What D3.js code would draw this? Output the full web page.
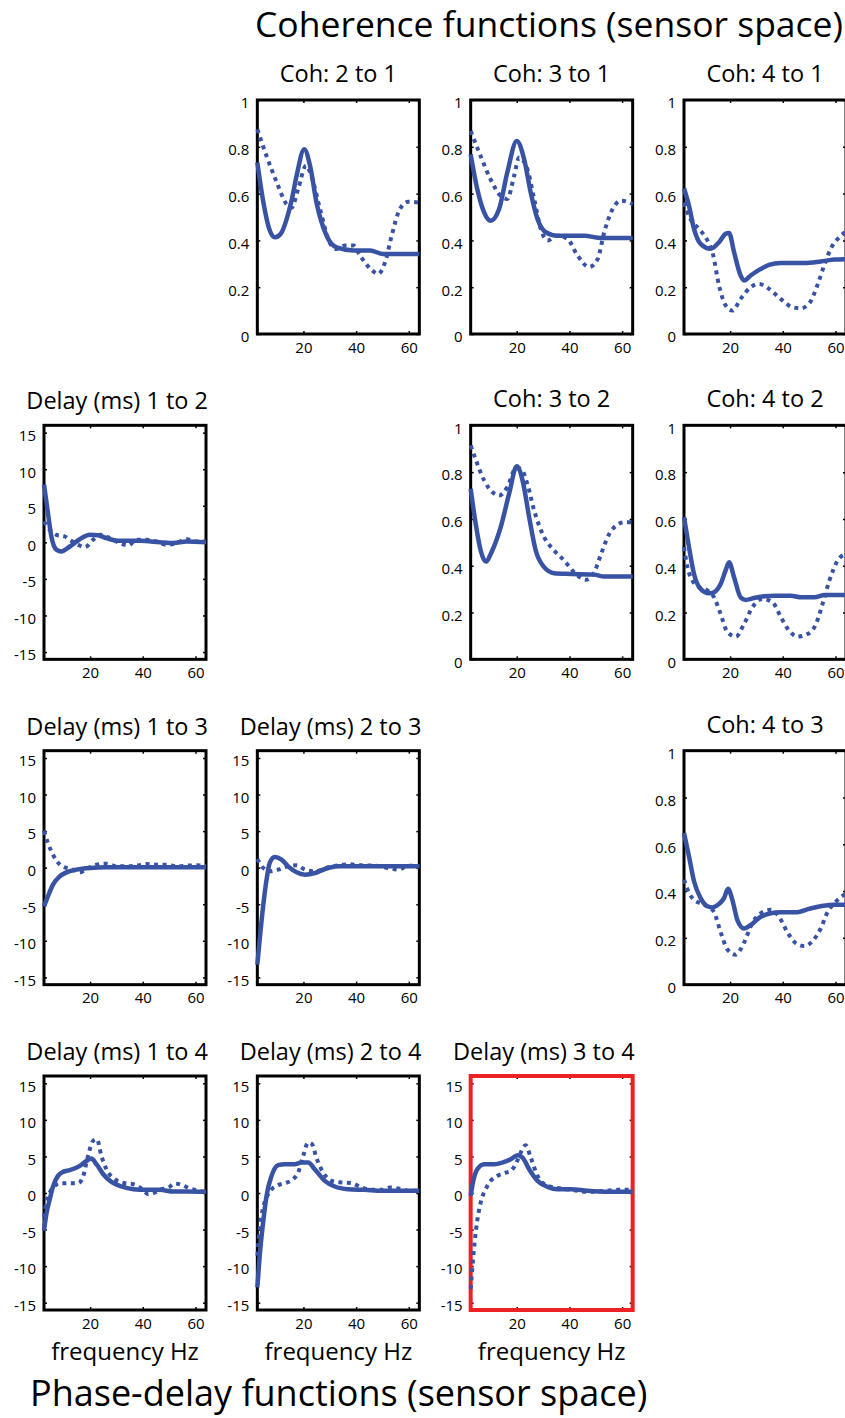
<!DOCTYPE html>
<html>
<head>
<meta charset="utf-8">
<script src="https://cdn.jsdelivr.net/npm/d3@7"></script>
<style>
  body { margin: 0; background: #fff; }
  svg { display: block; font-family: "Open Sans", sans-serif; }
</style>
</head>
<body>
<div id="chart"></div>
<script>
// curves: [frequency Hz, value]
const coh21Solid = [[2.5,0.733],[5,0.55],[7,0.45],[9.2,0.413],[11.5,0.43],[13.6,0.49],[15.5,0.57],[17.4,0.676],[20.3,0.79],[22.5,0.72],[25,0.56],[28.8,0.42],[32.6,0.37],[39,0.357],[45.3,0.357],[50.3,0.342],[64,0.342]];
const coh21Dotted = [[2.5,0.875],[6,0.76],[9.8,0.65],[13.6,0.555],[15.5,0.54],[18,0.62],[21,0.72],[23,0.676],[26.3,0.534],[30,0.39],[32.6,0.363],[35.8,0.378],[39,0.378],[41.5,0.335],[45.3,0.28],[48.4,0.257],[51,0.307],[53.5,0.42],[56.6,0.534],[59.8,0.565],[64,0.562]];

const coh31Solid = [[2.5,0.768],[5,0.62],[7.6,0.52],[10.1,0.484],[13.3,0.534],[16.4,0.69],[20,0.825],[22.8,0.747],[25.3,0.605],[27.9,0.49],[31,0.435],[35.5,0.42],[45.6,0.42],[52,0.41],[64,0.41]];
const coh31Dotted = [[2.5,0.868],[6.3,0.76],[10.1,0.66],[13.9,0.59],[16.4,0.577],[19,0.676],[20.9,0.754],[24,0.705],[26.6,0.577],[29.1,0.449],[31.7,0.4],[35.5,0.42],[39.3,0.406],[43.1,0.335],[47.5,0.286],[50.7,0.32],[53.2,0.435],[56.4,0.534],[59.6,0.57],[64,0.555]];

const coh41Solid = [[2.5,0.622],[4.4,0.548],[6.3,0.449],[8.8,0.385],[12.6,0.364],[15.8,0.392],[18.3,0.428],[19.6,0.432],[21.5,0.35],[24,0.25],[25.3,0.229],[27.8,0.25],[31,0.274],[34.8,0.295],[39.2,0.303],[48.1,0.303],[54.4,0.31],[59.5,0.318],[64,0.32]];
const coh41Dotted = [[2.5,0.562],[5,0.49],[8.2,0.449],[11.4,0.4],[13.3,0.35],[15.8,0.207],[18.3,0.122],[20.9,0.1],[24,0.15],[27.8,0.2],[31,0.214],[34.8,0.193],[39.2,0.15],[43.6,0.115],[46.8,0.11],[50,0.13],[53.1,0.207],[55.7,0.293],[58.2,0.364],[61.4,0.413],[64,0.437]];

const coh32Solid = [[2.5,0.729],[4.4,0.58],[6.3,0.465],[8.2,0.418],[10.7,0.465],[13.9,0.565],[17.1,0.708],[20,0.825],[22.2,0.765],[24.7,0.608],[27.2,0.465],[30.4,0.394],[34.2,0.368],[40.5,0.365],[49.4,0.362],[53.2,0.354],[64,0.354]];
const coh32Dotted = [[2.5,0.914],[5,0.836],[7.6,0.765],[10.7,0.715],[13.3,0.7],[16.4,0.736],[19.6,0.815],[21.5,0.815],[24,0.75],[26.6,0.636],[30.4,0.522],[34.2,0.465],[38,0.422],[41.8,0.372],[46.2,0.34],[49.4,0.372],[52,0.45],[55.1,0.536],[58.3,0.576],[60.8,0.586],[64,0.586]];

const coh42Solid = [[2.5,0.608],[4.4,0.479],[6.3,0.365],[8.8,0.301],[12,0.282],[13.9,0.287],[16.4,0.322],[18.3,0.38],[19.6,0.415],[21.5,0.351],[24,0.265],[25.9,0.254],[29.1,0.262],[33,0.27],[37,0.272],[43,0.272],[47,0.265],[52,0.265],[56,0.275],[64,0.275]];
const coh42Dotted = [[2.5,0.479],[3.8,0.394],[5.7,0.337],[8.2,0.308],[11.4,0.294],[13.9,0.265],[16.4,0.194],[19,0.116],[22.2,0.097],[25.3,0.151],[28.5,0.223],[32.3,0.258],[36.1,0.244],[39.3,0.18],[42.4,0.123],[45.6,0.097],[49.4,0.108],[52.6,0.151],[55.1,0.237],[57.7,0.337],[60.8,0.422],[64,0.451]];

const coh43Solid = [[2.5,0.648],[4.4,0.548],[6.3,0.442],[8.8,0.37],[11.4,0.335],[13.3,0.33],[15.8,0.345],[17.7,0.37],[19.2,0.41],[20.9,0.36],[22.8,0.275],[25.3,0.24],[27.8,0.255],[31.6,0.29],[35.4,0.305],[39.2,0.31],[45.5,0.31],[49.3,0.322],[54.4,0.335],[59.5,0.342],[64,0.342]];
const coh43Dotted = [[2.5,0.449],[4.4,0.392],[6.3,0.363],[9.5,0.345],[12,0.33],[13.9,0.31],[16.4,0.225],[19,0.15],[22.1,0.128],[25.3,0.18],[28.5,0.265],[31.6,0.305],[35.4,0.32],[38.6,0.29],[41.7,0.225],[44.9,0.178],[48.1,0.165],[51.2,0.185],[54.4,0.24],[57,0.31],[60.2,0.355],[64,0.39]];

const del12Solid = [[2.5,7.9],[4,4.0],[5.3,0.8],[7.2,-1.0],[9.1,-1.25],[12.3,-0.57],[16.1,0.43],[19.9,1.03],[23,0.98],[26.2,0.57],[31.3,0.2],[38.9,0.2],[46.5,0.02],[51.6,-0.1],[56.6,0.11],[64,0.02]];
const del12Dotted = [[2.5,2.85],[4.7,1.7],[7.2,1.03],[10.4,0.8],[12.3,0.34],[15.5,-0.34],[18,-0.66],[21.1,0.34],[23.7,1.03],[27.5,0.57],[31.3,-0.1],[34.5,-0.4],[37.6,0.34],[41.4,0.34],[45.2,0.11],[49,-0.34],[52.8,-0.1],[56.6,0.43],[60.5,0.11],[64,0.11]];

const del13Solid = [[2.5,-5.29],[4,-3.92],[5.9,-2.32],[8.5,-1.18],[11,-0.64],[14.8,-0.27],[19.9,-0.04],[26.2,0.05],[64,0.05]];
const del13Dotted = [[2.5,5.06],[4,3.37],[5.9,1.78],[8.5,0.41],[11,-0.04],[13.5,-0.27],[16.1,-0.64],[18.6,-0.18],[22.4,0.41],[26.2,0.55],[30,0.18],[33.8,0.18],[37.6,0.27],[41.4,0.5],[45.2,0.41],[49,0.41],[52.8,0.18],[56.6,0.27],[60.5,0.32],[64,0.18]];

const del23Solid = [[2.5,-13.26],[3.4,-9.84],[4.7,-5.29],[6,-1.64],[7.2,0.64],[9.1,1.46],[11.7,1.1],[14.2,0.18],[17.4,-0.64],[20.6,-0.96],[24.4,-0.73],[28.2,-0.18],[33.2,0.18],[39.6,0.18],[49.7,0.18],[64,0.18]];
const del23Dotted = [[2.5,1.19],[4.7,-0.04],[7.2,-0.5],[10.4,-0.27],[14.2,0.18],[17.4,0.32],[20.6,-0.27],[24.4,-0.5],[29.4,0.05],[33.2,0.32],[37,0.46],[42.1,0.32],[47.1,0.27],[52.2,-0.04],[56,-0.27],[59.8,0.27],[64,0.18]];

const del14Solid = [[2.5,-5.17],[3.4,-2.89],[4.7,-0.84],[6,0.98],[7.8,2.34],[9.7,2.89],[12.3,3.12],[16.1,3.71],[18.6,4.39],[20.5,4.71],[22.4,3.94],[25,2.57],[28.1,1.52],[31.9,0.89],[36.4,0.52],[41.4,0.43],[46.5,0.43],[51.6,0.2],[56.6,0.2],[64,0.16]];
const del14Dotted = [[2.5,-3.35],[3.4,-1.3],[4.7,0.07],[6.6,0.98],[8.5,1.34],[12.3,1.34],[15.5,1.34],[17.4,2.34],[19.2,5.07],[21.1,7.12],[22.6,7.35],[24.3,5.07],[26.2,3.25],[29.4,1.89],[33.2,1.34],[36.4,1.2],[39.5,0.61],[42.1,-0.16],[44.6,0.07],[47.1,0.52],[49.7,0.75],[52.2,1.29],[54.7,1.11],[57.9,0.61],[61.1,0.3],[64,0.16]];

const del24Solid = [[2.5,-12.9],[3.4,-8.58],[4.7,-4.03],[6,-0.38],[7.9,2.34],[10.4,3.8],[12.9,3.94],[16.7,3.94],[19.2,4.16],[21.8,4.16],[24.3,3.25],[28.1,1.66],[31.9,0.89],[37,0.52],[43.3,0.43],[49.7,0.3],[57.3,0.3],[64,0.3]];
const del24Dotted = [[2.5,-8.58],[3.4,-4.94],[4.7,-1.98],[6,-0.61],[7.9,0.52],[10.4,1.07],[12.9,1.34],[16.1,1.89],[18,2.8],[19.9,5.07],[21.8,6.9],[23.3,6.67],[24.9,4.85],[27.5,2.8],[30.7,1.66],[34.5,1.43],[38.3,1.34],[42.1,0.75],[45.9,0.43],[49.7,0.43],[52.8,0.75],[56,0.61],[59.8,0.3],[64,0.3]];

const del34Solid = [[2.5,-0.39],[3.5,1.66],[5,3.25],[7.6,3.94],[11.4,3.94],[14.5,4.16],[17.7,4.62],[20.3,5.17],[22.2,4.85],[24.7,3.25],[27.9,1.66],[31.7,0.84],[35.5,0.52],[40.5,0.52],[46.8,0.3],[54.4,0.16],[64,0.16]];
const del34Dotted = [[2.5,-13.13],[3.1,-10.4],[4,-6.76],[5,-3.8],[6.3,-1.3],[8.2,0.52],[10.1,1.66],[12.6,2.34],[15.2,2.71],[17.7,3.03],[19.6,3.94],[21.5,5.53],[23.4,6.53],[25.3,4.85],[27.9,2.34],[31.7,0.98],[36.7,0.61],[41.8,0.39],[46.8,0.16],[53.2,0.3],[58.3,0.43],[64,0.43]];

// axes ticks
const freqTicks = [20, 40, 60];
const cohTicks = [0, 0.2, 0.4, 0.6, 0.8, 1];
const cohTickLabels = ["0", "0.2", "0.4", "0.6", "0.8", "1"];
const delayTicks = [-15, -10, -5, 0, 5, 10, 15];
const delayTickLabels = ["-15", "-10", "-5", "0", "5", "10", "15"];

const panels = [
  { row: 0, col: 1, kind: "coh", title: "Coh: 2 to 1", solid: coh21Solid, dotted: coh21Dotted },
  { row: 0, col: 2, kind: "coh", title: "Coh: 3 to 1", solid: coh31Solid, dotted: coh31Dotted },
  { row: 0, col: 3, kind: "coh", title: "Coh: 4 to 1", solid: coh41Solid, dotted: coh41Dotted },
  { row: 1, col: 0, kind: "delay", title: "Delay (ms) 1 to 2", solid: del12Solid, dotted: del12Dotted },
  { row: 1, col: 2, kind: "coh", title: "Coh: 3 to 2", solid: coh32Solid, dotted: coh32Dotted },
  { row: 1, col: 3, kind: "coh", title: "Coh: 4 to 2", solid: coh42Solid, dotted: coh42Dotted },
  { row: 2, col: 0, kind: "delay", title: "Delay (ms) 1 to 3", solid: del13Solid, dotted: del13Dotted },
  { row: 2, col: 1, kind: "delay", title: "Delay (ms) 2 to 3", solid: del23Solid, dotted: del23Dotted },
  { row: 2, col: 3, kind: "coh", title: "Coh: 4 to 3", solid: coh43Solid, dotted: coh43Dotted },
  { row: 3, col: 0, kind: "delay", title: "Delay (ms) 1 to 4", solid: del14Solid, dotted: del14Dotted },
  { row: 3, col: 1, kind: "delay", title: "Delay (ms) 2 to 4", solid: del24Solid, dotted: del24Dotted },
  { row: 3, col: 2, kind: "delay", title: "Delay (ms) 3 to 4", solid: del34Solid, dotted: del34Dotted, highlight: true }
];

const w = 845;
const h = 1418;
const pw = 162;   // panel width
const ph = 234;   // panel height
const blue = "#3953a4";

const colX = d3.scaleLinear().domain([0, 3]).range([44, 684]);
const rowY = d3.scaleLinear().domain([0, 3]).range([100, 1076]);

const svg = d3.select("#chart")
  .append("svg")
  .attr("width", w)
  .attr("height", h);

svg.append("rect")
  .attr("width", w)
  .attr("height", h)
  .attr("fill", "#fff");

// big titles
svg.append("text")
  .attr("x", 843)
  .attr("y", 37)
  .attr("text-anchor", "end")
  .attr("font-size", 35.5)
  .text("Coherence functions (sensor space)");

svg.append("text")
  .attr("x", 30)
  .attr("y", 1406)
  .attr("font-size", 36)
  .text("Phase-delay functions (sensor space)");

panels.forEach(p => {
  const x0 = colX(p.col);
  const y0 = rowY(p.row);

  const xScale = d3.scaleLinear().domain([2.5, 64]).range([0, pw]);
  const yScale = p.kind === "coh"
    ? d3.scaleLinear().domain([0, 1]).range([ph, 0])
    : d3.scaleLinear().domain([-16, 16]).range([ph, 0]);
  const yTicks = p.kind === "coh" ? cohTicks : delayTicks;
  const yLabels = p.kind === "coh" ? cohTickLabels : delayTickLabels;

  const g = svg.append("g").attr("transform", `translate(${x0},${y0})`);

  // inward ticks on all four sides, matlab style
  const bottom = g.append("g").attr("transform", `translate(0,${ph})`)
    .call(d3.axisBottom(xScale).tickValues(freqTicks).tickSize(-3).tickPadding(6));
  g.append("g")
    .call(d3.axisTop(xScale).tickValues(freqTicks).tickSize(-3).tickFormat(""));
  const left = g.append("g")
    .call(d3.axisLeft(yScale).tickValues(yTicks).tickSize(-3).tickPadding(8)
      .tickFormat((d, i) => yLabels[i]));
  g.append("g").attr("transform", `translate(${pw},0)`)
    .call(d3.axisRight(yScale).tickValues(yTicks).tickSize(-3).tickFormat(""));

  g.selectAll(".domain").remove();
  g.selectAll(".tick line").attr("stroke", "#000").attr("stroke-width", 1.5);
  g.selectAll(".tick text")
    .attr("font-family", "'Open Sans', sans-serif")
    .attr("font-size", 15)
    .attr("fill", "#000");
  left.selectAll(".tick text").attr("dy", "0.52em");
  bottom.selectAll(".tick text").attr("dy", "0.85em");

  // frame
  g.append("rect")
    .attr("width", pw)
    .attr("height", ph)
    .attr("fill", "none")
    .attr("stroke", p.highlight ? "#ed2024" : "#000")
    .attr("stroke-width", p.highlight ? 4 : 3);

  const line = d3.line()
    .x(d => xScale(d[0]))
    .y(d => yScale(d[1]))
    .curve(d3.curveMonotoneX);

  g.append("path")
    .datum(p.dotted)
    .attr("d", line)
    .attr("fill", "none")
    .attr("stroke", blue)
    .attr("stroke-width", 4)
    .attr("stroke-dasharray", "4 4.5");

  g.append("path")
    .datum(p.solid)
    .attr("d", line)
    .attr("fill", "none")
    .attr("stroke", blue)
    .attr("stroke-width", 4.5)
    .attr("stroke-linejoin", "round");

  // panel title
  if (p.kind === "coh") {
    g.append("text")
      .attr("x", pw / 2)
      .attr("y", -18)
      .attr("text-anchor", "middle")
      .attr("font-size", 23.5)
      .text(p.title);
  } else {
    g.append("text")
      .attr("x", pw + 2)
      .attr("y", -16)
      .attr("text-anchor", "end")
      .attr("font-size", 23.5)
      .text(p.title);
  }

  if (p.row === 3) {
    g.append("text")
      .attr("x", pw / 2)
      .attr("y", ph + 50)
      .attr("text-anchor", "middle")
      .attr("font-size", 24)
      .text("frequency Hz");
  }
});
</script>
</body>
</html>
